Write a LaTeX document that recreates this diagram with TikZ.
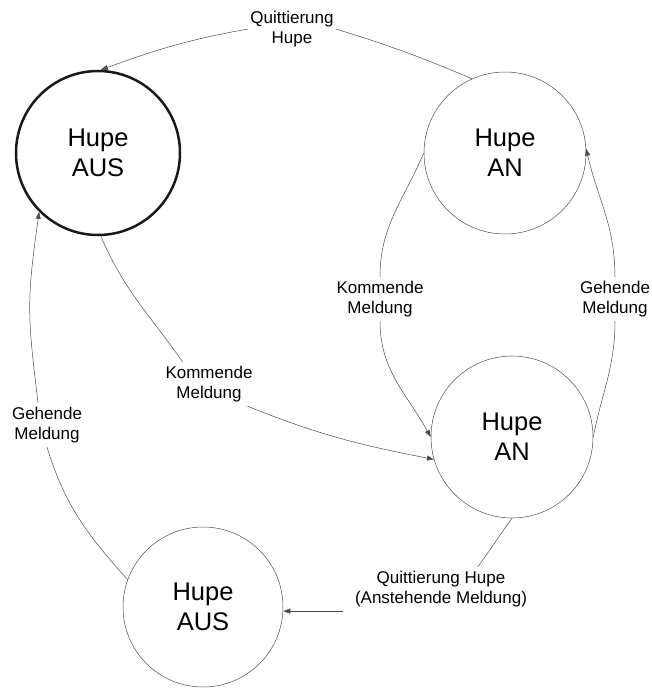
\documentclass[tikz,border=0pt]{standalone}
\usepackage{fontspec}
\setmainfont{Liberation Sans}
\usetikzlibrary{arrows.meta}
\begin{document}
\begin{tikzpicture}[x=1pt,y=1pt,
  state/.style={circle, draw=black!70, line width=0.5pt, minimum size=162pt, inner sep=0pt, align=center, font=\fontsize{25.5}{30}\selectfont},
  startstate/.style={state, draw=black!90, line width=2.5pt, minimum size=164pt},
  lbl/.style={align=center, font=\fontsize{17}{20}\selectfont, inner xsep=2pt, inner ysep=4pt},
  conn/.style={draw=black!70, line width=0.5pt},
  tip/.style={-{Triangle[length=7pt,width=5pt]}}
]
\useasboundingbox (0,0) rectangle (652,-688);
\node[startstate] (A) at (98,-153) {Hupe\\AUS};
\node[state] (B) at (505,-153) {Hupe\\AN};
\node[state] (C) at (512,-437) {Hupe\\AN};
\node[state, minimum size=160pt] (D) at (203,-607) {Hupe\\AUS};

\node[lbl] (q1) at (292,-29) {Quittierung\\Hupe};
\node[lbl] (k1) at (380,-299) {Kommende\\Meldung};
\node[lbl] (g1) at (615,-299) {Gehende\\Meldung};
\node[lbl] (k2) at (209,-384) {Kommende\\Meldung};
\node[lbl] (g2) at (47,-425) {Gehende\\Meldung};
\node[lbl, inner xsep=12pt] (q2) at (441,-589) {Quittierung Hupe\\(Anstehende Meldung)};

\draw[conn] (B.114) to[out=157,in=-17] (q1.east);
\draw[conn,tip] (q1.west) to[out=190,in=20] (A.88);

\draw[conn] (B.180) to[out=247,in=90] (k1.north);
\draw[conn,tip] (k1.south) to[out=-90,in=119] (C.180);

\draw[conn] (C.0) to[out=79,in=-90] (g1.south);
\draw[conn,tip] (g1.north) to[out=90,in=-77] (B.3);

\draw[conn] (A.-88) to[out=-67,in=125] (k2.140);
\draw[conn,tip] (k2.-30) to[out=-22,in=169] (C.196);

\draw[conn] (D.160) to[out=132,in=-73] (g2.south);
\draw[conn,tip] (g2.112) to[out=97,in=-98,looseness=1.2] (A.225);

\draw[conn] (C.270) to[out=234,in=54] (q2.31);
\draw[conn,tip] (q2.south west) -- (q2.south west -| D.east);
\end{tikzpicture}
\end{document}
